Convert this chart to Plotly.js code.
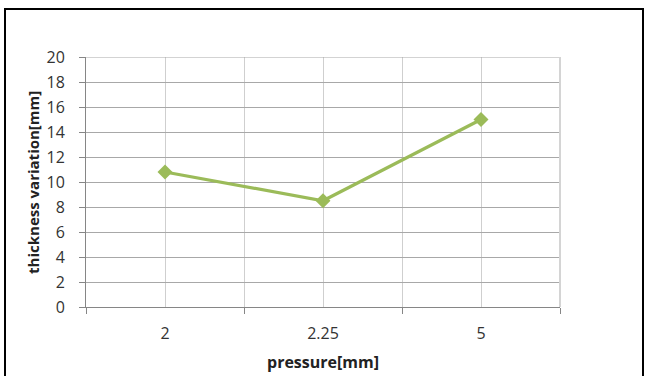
<!DOCTYPE html>
<html>
<head>
<meta charset="utf-8">
<script src="https://cdn.plot.ly/plotly-3.0.1.min.js"></script>
<style>
  html, body { margin: 0; padding: 0; background: #fff; }
  #wrap { position: relative; width: 649px; height: 376px; overflow: hidden; }
  #chart { position: absolute; left: 0; top: 0; width: 649px; height: 376px; }
  #frame {
    position: absolute; left: 4px; top: 8px; width: 636px; height: 400px;
    border-left: 2px solid #000; border-top: 2px solid #000; border-right: 2px solid #000;
    pointer-events: none;
  }
</style>
</head>
<body>
<div id="wrap">
  <div id="chart"></div>
  <div id="frame"></div>
</div>
<script>
// pressure settings and measured thickness variation
const pressure = ['2', '2.25', '5'];
const thickness = [10.8, 8.5, 15];
const yTicks = [0, 2, 4, 6, 8, 10, 12, 14, 16, 18, 20];
const xTitle = 'pressure[mm]';
const yTitle = 'thickness variation[mm]';

const idx = pressure.map((_, i) => i);
const bounds = [-0.5].concat(idx.map(i => i + 0.5));

const gridH = '#a8a8a8';
const gridV = '#cfcfcf';
const axisCol = '#868686';
const font = 'Open Sans, sans-serif';
const titleBase = { family: 'Open Sans, sans-serif', color: '#222', weight: 'bold' };

const trace = {
  x: idx,
  y: thickness,
  type: 'scatter',
  mode: 'lines+markers',
  line: { color: '#9bbb59', width: 3.2 },
  marker: { symbol: 'diamond', size: 11.5, color: '#9bbb59' },
  cliponaxis: false,
  hoverinfo: 'skip'
};

const layout = {
  width: 649,
  height: 376,
  margin: { l: 86, r: 89, t: 57, b: 69 },
  paper_bgcolor: '#fff',
  plot_bgcolor: '#fff',
  showlegend: false,
  xaxis: {
    range: [-0.5, pressure.length - 0.5],
    tickmode: 'array',
    tickvals: idx,
    ticktext: pressure,
    ticks: '',
    ticklabelstandoff: 12,
    showgrid: true,
    gridcolor: gridV,
    gridwidth: 1,
    zeroline: false,
    showline: true,
    linecolor: axisCol,
    linewidth: 1,
    tickfont: { family: font, size: 16, color: '#333' },
    minor: {
      tickmode: 'array',
      tickvals: bounds,
      ticks: 'outside',
      ticklen: 6,
      tickcolor: axisCol,
      showgrid: true,
      gridcolor: gridV,
      gridwidth: 1
    }
  },
  yaxis: {
    range: [0, 20],
    tickmode: 'array',
    tickvals: yTicks,
    ticks: 'outside',
    ticklen: 6,
    tickcolor: axisCol,
    ticklabelstandoff: 11,
    showgrid: true,
    gridcolor: gridH,
    gridwidth: 1,
    zeroline: false,
    showline: true,
    linecolor: axisCol,
    linewidth: 1,
    tickfont: { family: font, size: 16, color: '#333' }
  },
  annotations: [
    { text: xTitle, xref: 'paper', yref: 'paper', x: 0.5, y: -0.22, xanchor: 'center', yanchor: 'middle',
      showarrow: false, font: Object.assign({ size: 16 }, titleBase) },
    { text: yTitle, xref: 'paper', yref: 'paper', x: -0.112, y: 0.5, xanchor: 'center', yanchor: 'middle',
      textangle: -90, showarrow: false, font: Object.assign({ size: 15 }, titleBase) }
  ],
  shapes: [
    { type: 'line', xref: 'paper', yref: 'y', x0: 0, x1: 1, y0: 20, y1: 20, line: { color: gridH, width: 1 } },
    { type: 'line', xref: 'paper', yref: 'paper', x0: 1, x1: 1, y0: 0, y1: 1, line: { color: '#d4d4d4', width: 2 } }
  ]
};

Plotly.newPlot('chart', [trace], layout, { staticPlot: true, displayModeBar: false });
</script>
</body>
</html>
